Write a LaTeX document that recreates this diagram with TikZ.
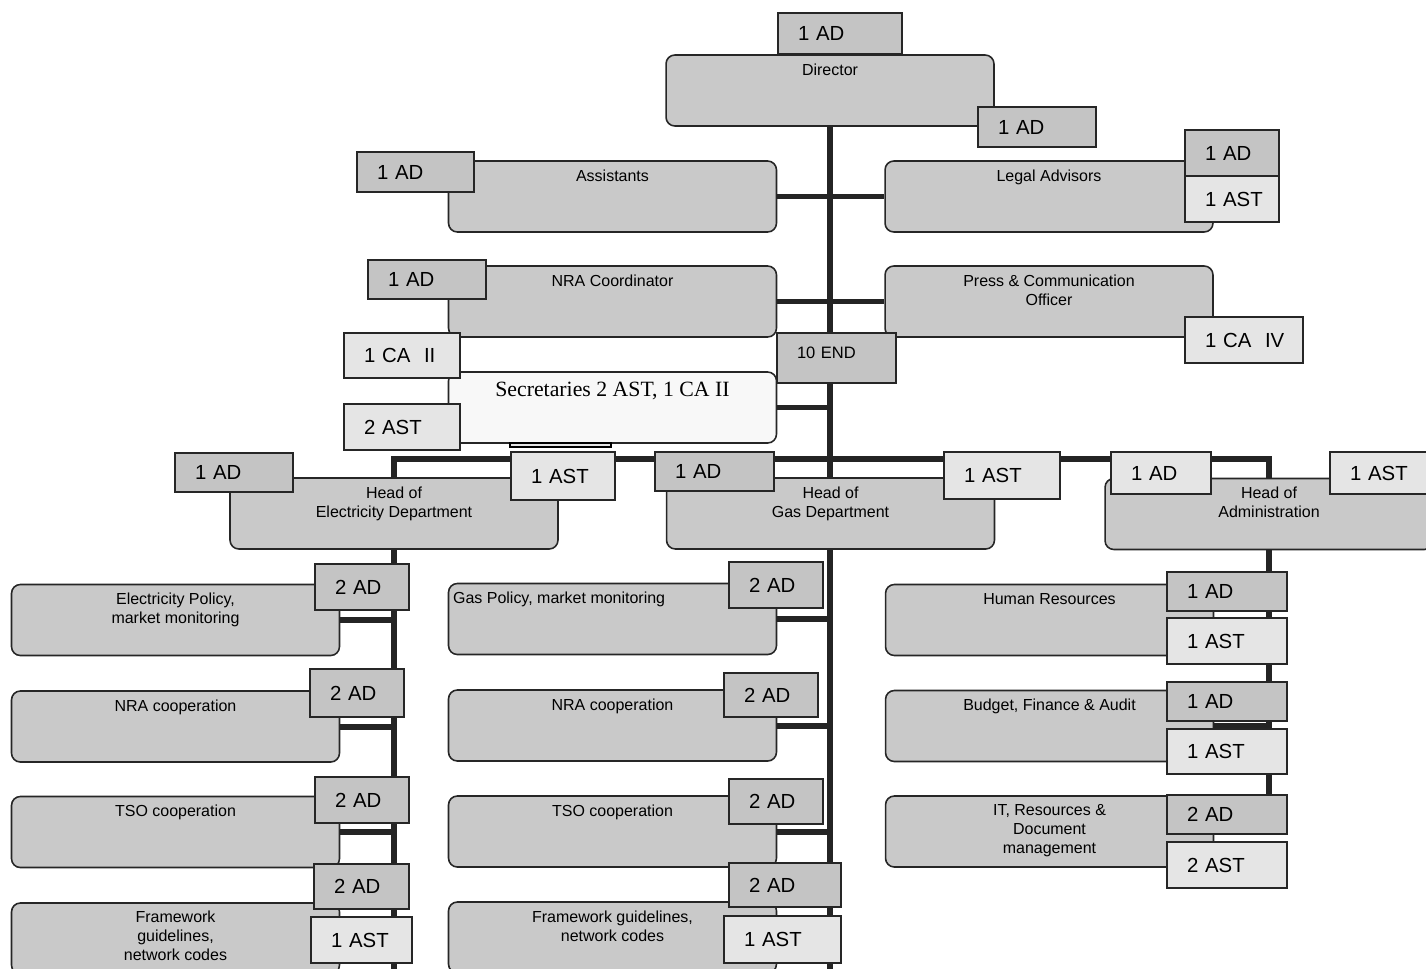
\documentclass[tikz,border=0pt]{standalone}
\usepackage{fontspec}
\setmainfont{Liberation Sans}
\newfontfamily\secserif{Liberation Serif}
\usepackage{tikz}

\definecolor{boxgray}{RGB}{201,201,201}
\definecolor{adgray}{RGB}{196,196,196}
\definecolor{astgray}{RGB}{229,229,229}
\definecolor{secwhite}{RGB}{248,248,248}
\definecolor{linegray}{RGB}{36,36,36}

\pgfdeclarelayer{back}
\pgfsetlayers{back,main}

\tikzset{
  unit/.style={draw=black!85, line width=0.9pt, rounded corners=5pt, fill=boxgray,
    minimum width=6.56cm, minimum height=1.42cm},
  head/.style={draw=none, fill=none, anchor=north, inner sep=0pt, yshift=-0.18cm,
    minimum width=0pt, minimum height=0pt, align=center,
    font=\fontsize{9.1}{10.8}\selectfont},
  tag/.style={draw=black!85, line width=0.9pt, fill=adgray, inner xsep=0.4cm,
    inner ysep=0pt, align=left, font=\fontsize{11.6}{13}\selectfont},
  tagl/.style={tag, fill=astgray},
  link/.style={draw=linegray, line width=3.4pt},
}

\begin{document}
\begin{tikzpicture}[x=0.02cm, y=-0.02cm]
\useasboundingbox (0,0) rectangle (1426,968);

% units
\node[unit, label={[head]north:Director}] (dir) at (830,90.5) {};
\node[unit, label={[head]north:Assistants}] (ass) at (612.5,196.5) {};
\node[unit, label={[head]north:Legal Advisors}] (leg) at (1049,196.5) {};
\node[unit, label={[head]north:NRA Coordinator}] (nra) at (612.5,301.5) {};
\node[unit, label={[head]north:Press \& Communication\\Officer}] (pres) at (1049,301.5) {};
\node[unit, fill=secwhite, label={[head, yshift=-0.02cm, font=\secserif\fontsize{12.4}{15}\selectfont]north:Secretaries 2 AST, 1 CA II}] (sec) at (612.5,407.5) {};
\draw[line width=0.9pt, fill=astgray] (510,443) rectangle (611,447);

\node[unit, label={[head]north:Head of\\Electricity Department}] (hel) at (394,513.5) {};
\node[unit, label={[head]north:Head of\\Gas Department}] (hgas) at (830.5,513.5) {};
\node[unit, label={[head]north:Head of\\Administration}] (hadm) at (1269,514) {};

\node[unit, label={[head]north:Electricity Policy,\\market monitoring}] (e1) at (175.5,620) {};
\node[unit, label={[head]north:NRA cooperation}] (e2) at (175.5,726.5) {};
\node[unit, label={[head]north:TSO cooperation}] (e3) at (175.5,832) {};
\node[unit, label={[head, yshift=0.02cm]north:Framework\\guidelines,\\network codes}] (e4) at (175.5,938.5) {};

\node[unit, label={[head, anchor=north west, xshift=0.1cm]north west:Gas Policy, market monitoring}] (g1) at (612.5,619) {};
\node[unit, label={[head]north:NRA cooperation}] (g2) at (612.5,725.5) {};
\node[unit, label={[head]north:TSO cooperation}] (g3) at (612.5,831.5) {};
\node[unit, label={[head]north:Framework guidelines,\\network codes}] (g4) at (612.5,937.5) {};

\node[unit, label={[head]north:Human Resources}] (a1) at (1049.5,620) {};
\node[unit, label={[head]north:Budget, Finance \& Audit}] (a2) at (1049.5,726) {};
\node[unit, label={[head]north:IT, Resources \&\\Document\\management}] (a3) at (1049.5,831.5) {};

% staff tags
\node[tag, text width=1.68cm, minimum height=0.82cm] (tDir) at (840,33.5) {1~AD};
\node[tag, text width=1.56cm, minimum height=0.8cm] (tDirB) at (1037,127) {1~AD};
\node[tag, text width=1.54cm, minimum height=0.8cm] (tAss) at (415.5,172) {1~AD};
\node[tag, text width=1.08cm, minimum height=0.92cm] (tLegAD) at (1232,153) {1~AD};
\node[tagl, text width=1.08cm, minimum height=0.92cm] (tLegAST) at (1232,199) {1~AST};
\node[tag, text width=1.56cm, minimum height=0.78cm] (tNra) at (427,279.5) {1~AD};
\node[tagl, text width=1.56cm, minimum height=0.92cm] (tPres) at (1244,340) {1~CA~~IV};
\node[tag, text width=1.58cm, minimum height=1.0cm, text depth=0.22cm, font=\fontsize{9.4}{11}\selectfont] (tEnd) at (836.5,358) {10~END};
\node[tagl, text width=1.52cm, minimum height=0.9cm] (tSecCA) at (402,355.5) {1~CA~~II};
\node[tagl, text width=1.52cm, minimum height=0.92cm] (tSecAST) at (402,427) {2~AST};

\node[tag, text width=1.56cm, minimum height=0.78cm] (tElAD) at (234,472.5) {1~AD};
\node[tagl, text width=1.28cm, minimum height=0.96cm] (tElAST) at (563,476) {1~AST};
\node[tag, text width=1.58cm, minimum height=0.78cm] (tGasAD) at (714.5,471.5) {1~AD};
\node[tagl, text width=1.52cm, minimum height=0.94cm] (tGasAST) at (1002,475.5) {1~AST};
\node[tagl, text width=1.2cm, minimum height=0.84cm] (tAdmAD) at (1161,473) {1~AD};
\node[tagl, text width=1.2cm, minimum height=0.84cm] (tAdmAST) at (1380,473) {1~AST};

\node[tag, text width=1.08cm, minimum height=0.92cm] (tE1) at (362,587) {2~AD};
\node[tag, text width=1.08cm, minimum height=0.96cm] (tE2) at (357,693) {2~AD};
\node[tag, text width=1.08cm, minimum height=0.92cm] (tE3) at (362,800) {2~AD};
\node[tag, text width=1.1cm, minimum height=0.9cm] (tE4AD) at (361.5,886.5) {2~AD};
\node[tagl, text width=1.22cm, minimum height=0.92cm] (tE4AST) at (361.5,940) {1~AST};

\node[tag, text width=1.08cm, minimum height=0.92cm] (tG1) at (776,585) {2~AD};
\node[tag, text width=1.08cm, minimum height=0.88cm] (tG2) at (771,695) {2~AD};
\node[tag, text width=1.08cm, minimum height=0.9cm] (tG3) at (776,801.5) {2~AD};
\node[tag, text width=1.44cm, minimum height=0.88cm] (tG4AD) at (785,885) {2~AD};
\node[tagl, text width=1.54cm, minimum height=0.94cm] (tG4AST) at (782.5,939.5) {1~AST};

\node[tag, text width=1.6cm, minimum height=0.78cm] (tA1AD) at (1227,591.5) {1~AD};
\node[tagl, text width=1.6cm, minimum height=0.92cm] (tA1AST) at (1227,641) {1~AST};
\node[tag, text width=1.6cm, minimum height=0.78cm] (tA2AD) at (1227,701.5) {1~AD};
\node[tagl, text width=1.6cm, minimum height=0.9cm] (tA2AST) at (1227,751.5) {1~AST};
\node[tag, text width=1.6cm, minimum height=0.78cm] (tA3AD) at (1227,814.5) {2~AD};
\node[tagl, text width=1.6cm, minimum height=0.92cm] (tA3AST) at (1227,865) {2~AST};

% connectors
\begin{pgfonlayer}{back}
\coordinate (bot) at (830,975);
\coordinate (bar) at (830,459);
\path[link] (dir.south) -- (dir.south |- bot);
\path[link] (ass.east) -- (leg.west);
\path[link] (nra.east) -- (pres.west);
\path[link] (sec.east) -- (sec.east -| dir.south);
\path[link] (hel.north) |- (bar) -| (hadm.north);
\path[link] (hel.south) -- (hel.south |- bot);
\path[link] (hadm.south) -- (a3.east -| hadm.south);
\foreach \n in {e1,e2,e3,e4} \path[link] (\n.east) -- (\n.east -| hel.south);
\foreach \n in {g1,g2,g3,g4} \path[link] (\n.east) -- (\n.east -| dir.south);
\foreach \n in {a1,a2,a3} \path[link] (\n.east) -- (\n.east -| hadm.south);
\end{pgfonlayer}

\end{tikzpicture}
\end{document}
